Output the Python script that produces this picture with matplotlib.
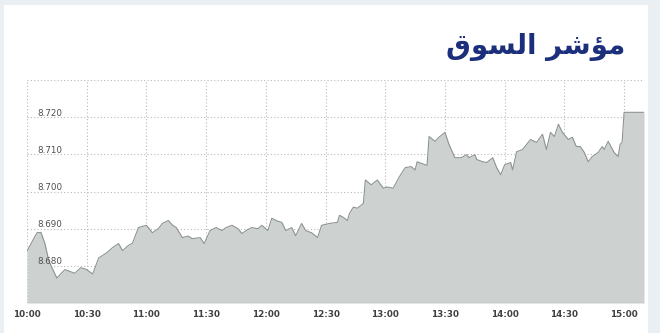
import matplotlib
matplotlib.use("Agg")
import matplotlib.pyplot as plt
import matplotlib.transforms as mtransforms
from matplotlib.patches import Rectangle

# ---- data -------------------------------------------------------------
times = ["10:00", "10:05", "10:07", "10:09", "10:11", "10:15", "10:19", "10:24", "10:27", "10:30",
         "10:33", "10:36", "10:40", "10:43", "10:46", "10:48", "10:51", "10:53", "10:56", "11:00",
         "11:03", "11:06", "11:08", "11:11", "11:13", "11:15", "11:18", "11:21", "11:23", "11:27",
         "11:29", "11:32", "11:35", "11:38", "11:40", "11:43", "11:46", "11:48", "11:51", "11:53",
         "11:56", "11:58", "12:01", "12:03", "12:06", "12:08", "12:10", "12:13", "12:15", "12:18",
         "12:20", "12:23", "12:26", "12:28", "12:32", "12:36", "12:37", "12:39", "12:41", "12:42",
         "12:44", "12:46", "12:49", "12:50", "12:53", "12:56", "12:59", "13:01", "13:04", "13:07",
         "13:10", "13:13", "13:15", "13:16", "13:20", "13:21", "13:22", "13:25", "13:27", "13:30",
         "13:32", "13:35", "13:38", "13:41", "13:42", "13:45", "13:46", "13:49", "13:51", "13:54",
         "13:56", "13:58", "14:00", "14:03", "14:04", "14:06", "14:09", "14:13", "14:16", "14:19",
         "14:21", "14:23", "14:25", "14:27", "14:29", "14:32", "14:34", "14:36", "14:38", "14:40",
         "14:42", "14:44", "14:47", "14:49", "14:50", "14:52", "14:55", "14:57", "14:58", "14:59",
         "15:00", "15:10"]
index_values = [8.6840, 8.6889, 8.6890, 8.6860, 8.6813, 8.6767, 8.6790, 8.6780, 8.6795, 8.6790,
                8.6778, 8.6821, 8.6835, 8.6849, 8.6860, 8.6841, 8.6855, 8.6861, 8.6903, 8.6909,
                8.6889, 8.6900, 8.6914, 8.6922, 8.6910, 8.6903, 8.6876, 8.6880, 8.6873, 8.6876,
                8.6860, 8.6895, 8.6903, 8.6895, 8.6903, 8.6909, 8.6900, 8.6887, 8.6898, 8.6903,
                8.6900, 8.6909, 8.6895, 8.6928, 8.6920, 8.6917, 8.6895, 8.6903, 8.6881, 8.6914,
                8.6895, 8.6889, 8.6876, 8.6909, 8.6914, 8.6917, 8.6936, 8.6930, 8.6922, 8.6941,
                8.6958, 8.6955, 8.6968, 8.7031, 8.7018, 8.7031, 8.7009, 8.7012, 8.7009, 8.7039,
                8.7064, 8.7067, 8.7058, 8.7080, 8.7072, 8.7070, 8.7148, 8.7135, 8.7146, 8.7159,
                8.7127, 8.7091, 8.7091, 8.7099, 8.7091, 8.7099, 8.7086, 8.7080, 8.7078, 8.7091,
                8.7064, 8.7045, 8.7072, 8.7078, 8.7058, 8.7107, 8.7113, 8.7140, 8.7132, 8.7154,
                8.7113, 8.7159, 8.7148, 8.7181, 8.7159, 8.7140, 8.7146, 8.7121, 8.7121, 8.7105,
                8.7080, 8.7094, 8.7105, 8.7121, 8.7113, 8.7135, 8.7105, 8.7094, 8.7127, 8.7132,
                8.7213, 8.7213]
x_tick_labels = ["10:00", "10:30", "11:00", "11:30", "12:00", "12:30",
                 "13:00", "13:30", "14:00", "14:30", "15:00"]
y_tick_values = [8.680, 8.690, 8.700, 8.710, 8.720]
y_grid_values = [8.670, 8.680, 8.690, 8.700, 8.710, 8.720, 8.730]
title_text = "\uFED5\uFEEE\uFEB4\uFEDF\uFE8D \uFEAE\uFEB7\uFE86\uFEE3"  # مؤشر السوق (pre-shaped)


def to_minutes(s):
    h, m = s.split(":")
    return (int(h) - 10) * 60 + int(m)


xs = [to_minutes(t) for t in times]
xticks = [to_minutes(t) for t in x_tick_labels]

# ---- figure -----------------------------------------------------------
fig = plt.figure(figsize=(6.6, 3.33), dpi=100)
fig.patch.set_facecolor("#eaeff3")
fig.patches.append(Rectangle((4 / 660, 0), 644 / 660, 1 - 5 / 333,
                             transform=fig.transFigure, facecolor="white",
                             edgecolor="none", zorder=0))

ax = fig.add_axes([27 / 660, 1 - 303 / 333, (644 - 27) / 660, (303 - 80) / 333])
ax.set_zorder(2)
ax.set_facecolor("none")
ax.set_xlim(0, 310)
ax.set_ylim(8.670, 8.730)

grid_kw = dict(color="#b9b9b9", linewidth=0.8, linestyle=(0, (1, 2)), zorder=1)
for gy in y_grid_values:
    ax.axhline(gy, **grid_kw)
for gx in xticks:
    ax.axvline(gx, **grid_kw)

ax.fill_between(xs, index_values, 8.670, color="#cdd1cf", zorder=2, linewidth=0)
ax.plot(xs, index_values, color="#8d9492", linewidth=0.8, zorder=3)
ax.axhline(8.670, color="#a6a6a6", linewidth=0.9, zorder=4)

for s in ax.spines.values():
    s.set_visible(False)

ax.set_xticks(xticks)
ax.set_xticklabels(x_tick_labels)
ax.set_yticks([])
ax.tick_params(axis="x", length=0, pad=5, labelsize=6.3, labelcolor="#404040")
for lbl in ax.get_xticklabels():
    lbl.set_fontweight("bold")

ytrans = mtransforms.offset_copy(ax.get_yaxis_transform(), fig=fig, x=10, y=4, units="dots")
for v in y_tick_values:
    ax.text(0, v, f"{v:.3f}", transform=ytrans, ha="left", va="center",
            fontsize=6.3, color="#505050", zorder=5)

fig.text(625 / 660, 1 - 47 / 333, title_text, ha="right", va="center",
         fontsize=20, fontweight="bold", color="#1c2f7c", family="DejaVu Sans", zorder=3)

fig.savefig("out.png", dpi=100, facecolor=fig.get_facecolor())
